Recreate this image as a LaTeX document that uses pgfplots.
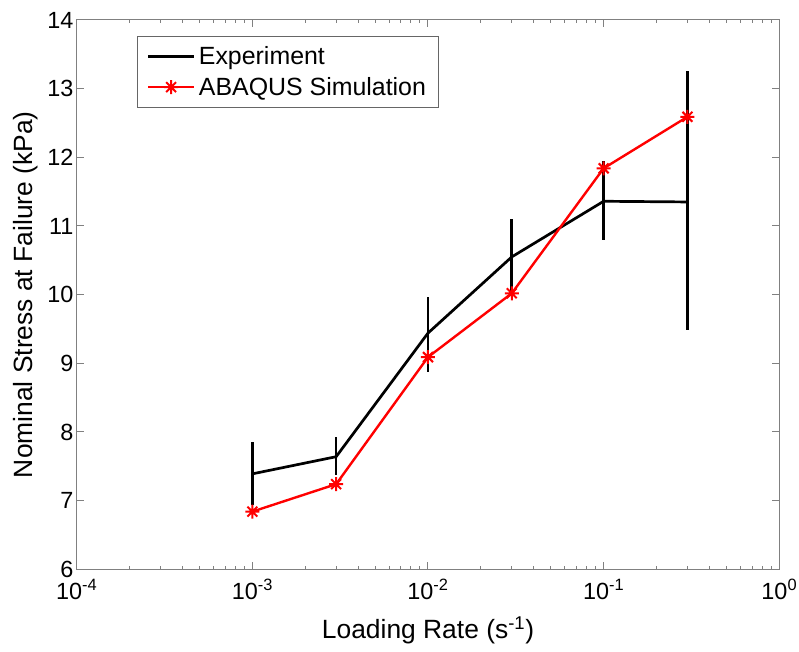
\documentclass[border=0pt]{standalone}
\usepackage{fontspec}
\setmainfont{Liberation Sans}
\usepackage{pgfplots}
\pgfplotsset{compat=1.18}
\usetikzlibrary{calc}

\pgfdeclareplotmark{mstar}{%
  \pgfpathmoveto{\pgfqpoint{0pt}{\pgfplotmarksize}}%
  \pgfpathlineto{\pgfqpoint{0pt}{-\pgfplotmarksize}}%
  \pgfpathmoveto{\pgfqpoint{\pgfplotmarksize}{0pt}}%
  \pgfpathlineto{\pgfqpoint{-\pgfplotmarksize}{0pt}}%
  \pgfpathmoveto{\pgfqpoint{.707\pgfplotmarksize}{.707\pgfplotmarksize}}%
  \pgfpathlineto{\pgfqpoint{-.707\pgfplotmarksize}{-.707\pgfplotmarksize}}%
  \pgfpathmoveto{\pgfqpoint{-.707\pgfplotmarksize}{.707\pgfplotmarksize}}%
  \pgfpathlineto{\pgfqpoint{.707\pgfplotmarksize}{-.707\pgfplotmarksize}}%
  \pgfusepathqstroke}

\pgfplotstableread{
x      y      ep    em
0.001  7.39   0.46  0.46
0.003  7.64   0.29  0.27
0.01   9.44   0.53  0.57
0.03   10.55  0.55  0.55
0.1    11.36  0.59  0.56
0.3    11.35  1.90  1.86
}\experiment

\pgfplotstableread{
x      y
0.001  6.84
0.003  7.24
0.01   9.09
0.03   10.02
0.1    11.84
0.3    12.59
}\simulation

\begin{document}
\begin{tikzpicture}
\begin{axis}[
  name=ax,
  scale only axis,
  width=702.6bp, height=549.3bp,
  xmode=log,
  xmin=1e-4, xmax=1,
  ymin=6, ymax=14,
  ytick={6,7,8,9,10,11,12,13,14},
  xtick={1e-4,1e-3,1e-2,1e-1,1},
  xticklabels={10\textsuperscript{-4},10\textsuperscript{-3},10\textsuperscript{-2},10\textsuperscript{-1},10\textsuperscript{0}},
  /pgf/number format/assume math mode=true,
  tick align=inside,
  axis line style={draw=black!50, line width=1bp},
  every tick/.style={draw=black!50, line width=1bp},
  major tick length=7bp,
  minor tick length=3.5bp,
  font=\fontsize{24}{28}\selectfont,
  ticklabel style={font=\fontsize{23.5}{28}\selectfont},
  yticklabel style={inner xsep=3bp},
  xticklabel style={inner ysep=4bp, yshift=-6bp},
  xlabel={Loading Rate (s\textsuperscript{-1})},
  ylabel={Nominal Stress at Failure (kPa)},
  label style={font=\fontsize{26.5}{30}\selectfont},
  xlabel style={at={(axis description cs:0.5,-0.1251)}, anchor=base},
  ylabel style={at={(axis description cs:-0.0622,0.5)}, anchor=base},
  legend style={
    at={(0.0863,0.971)}, anchor=north west,
    draw=black!60, line width=0.8bp,
    font=\fontsize{25}{29}\selectfont,
    inner xsep=9bp, inner ysep=7bp,
    row sep=4bp,
    nodes={inner sep=3.5bp},
  },
  legend cell align=left,
  legend image code/.code={\draw[mark repeat=2,mark phase=2,#1] plot coordinates {(0bp,0bp) (23bp,0bp) (46bp,0bp)};},
]
\addplot[black, line width=2.7bp,
  error bars/.cd, y dir=both, y explicit, error mark=none,
  error bar style={line width=2.7bp, black}]
  table[x=x, y=y, y error plus=ep, y error minus=em] {\experiment};
\addlegendentry{Experiment}
\addplot[red, line width=2.4bp, mark=mstar, mark size=7bp,
  mark options={line width=2bp, solid}]
  table[x=x, y=y] {\simulation};
\addlegendentry{ABAQUS Simulation}
\end{axis}
\pgfresetboundingbox
\path[use as bounding box] ($(ax.south west)+(-76.7bp,-82.7bp)$) rectangle ($(ax.north east)+(19.7bp,20bp)$);
\end{tikzpicture}
\end{document}
